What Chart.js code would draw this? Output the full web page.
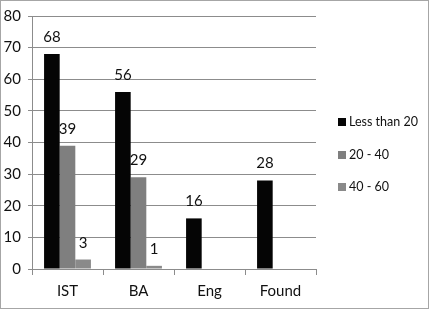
<!DOCTYPE html>
<html>
<head>
<meta charset="utf-8">
<script src="https://cdn.jsdelivr.net/npm/chart.js@4"></script>
<style>
  html, body { margin: 0; padding: 0; background: #fff; }
  #wrap { width: 429px; height: 310px; position: relative; }
</style>
</head>
<body>
<div id="wrap"><canvas id="chart"></canvas></div>
<script>
// data
const categories = ['IST', 'BA', 'Eng', 'Found'];
const seriesNames = ['Less than 20', '20 - 40', '40 - 60'];
const lessThan20 = [68, 56, 16, 28];
const from20to40 = [39, 29, null, null];
const from40to60 = [3, 1, null, null];
const yTicks = [0, 10, 20, 30, 40, 50, 60, 70, 80];

const COLORS = ['#050505', '#7f7f7f', '#8a8a8a'];
const FONT = 'Lato, "Open Sans", sans-serif';
const GRID = '#8c8c8c';

// value labels above each bar
const valueLabels = {
  id: 'valueLabels',
  afterDatasetsDraw(chart) {
    const ctx = chart.ctx;
    ctx.save();
    ctx.font = '15px ' + FONT;
    ctx.fillStyle = '#111';
    ctx.textAlign = 'center';
    ctx.textBaseline = 'alphabetic';
    chart.data.datasets.forEach((ds, i) => {
      chart.getDatasetMeta(i).data.forEach((bar, j) => {
        const v = ds.data[j];
        if (v === null || v === undefined) return;
        ctx.fillText(String(v), bar.x, bar.y - 12);
      });
    });
    ctx.restore();
  }
};

// legend on the right, drawn by hand for exact placement
const sideLegend = {
  id: 'sideLegend',
  afterDraw(chart) {
    const ctx = chart.ctx;
    ctx.save();
    ctx.font = '12.5px ' + FONT;
    ctx.textBaseline = 'middle';
    ctx.textAlign = 'left';
    const ys = [122, 155, 187];
    seriesNames.forEach((name, i) => {
      ctx.fillStyle = COLORS[i];
      ctx.fillRect(338, ys[i] - 4, 8, 8);
      ctx.fillStyle = '#111';
      ctx.fillText(name, 349, ys[i]);
    });
    // outer frame
    ctx.strokeStyle = '#a6a6a6';
    ctx.lineWidth = 1;
    ctx.strokeRect(0.5, 0.5, 428, 308);
    ctx.restore();
  }
};

const mk = (label, data, color) => ({
  label, data, backgroundColor: color, borderWidth: 0,
  categoryPercentage: 0.66, barPercentage: 1,
});

new Chart(document.getElementById('chart'), {
  type: 'bar',
  data: {
    labels: categories,
    datasets: [
      mk(seriesNames[0], lessThan20, COLORS[0]),
      mk(seriesNames[1], from20to40, COLORS[1]),
      mk(seriesNames[2], from40to60, COLORS[2]),
    ],
  },
  options: {
    responsive: true, maintainAspectRatio: false, animation: false,
    layout: { padding: { top: 13, right: 113, left: 0, bottom: 0 } },
    plugins: { legend: { display: false }, tooltip: { enabled: false } },
    scales: {
      x: {
        grid: { offset: true, drawOnChartArea: false, drawTicks: true, tickLength: 6, color: GRID },
        border: { color: GRID },
        ticks: { color: '#111', font: { size: 15, family: FONT }, padding: 7 },
        afterFit(s) { s.height = 41; },
      },
      y: {
        min: 0, max: 80,
        afterBuildTicks(s) { s.ticks = yTicks.map(v => ({ value: v })); },
        grid: { color: GRID, tickLength: 4 },
        border: { color: GRID },
        ticks: { color: '#111', font: { size: 15, family: FONT }, padding: 7 },
        afterFit(s) { s.width = 32; },
      },
    },
  },
  plugins: [valueLabels, sideLegend],
});
</script>
</body>
</html>
